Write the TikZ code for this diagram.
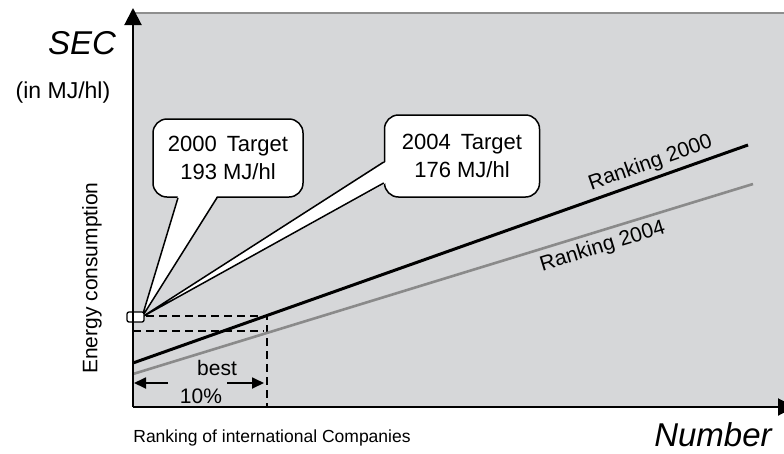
\documentclass[tikz,border=0pt]{standalone}
\usepackage{fontspec}
\setmainfont{Liberation Sans}
\usetikzlibrary{arrows.meta}
\definecolor{panel}{HTML}{D6D7D9}
\definecolor{rim}{HTML}{8E8E8E}
\definecolor{rank04}{HTML}{8A8A8A}
\newcommand{\fsz}[1]{\fontsize{#1}{1.27\dimexpr#1pt\relax}\selectfont}
\begin{document}
\begin{tikzpicture}[x=1pt, y=-1pt,
    bubble/.style={draw, fill=white, line width=1.5pt, rounded corners=14pt,
      minimum width=150pt, minimum height=78pt, align=center, font=\fsz{22}},
    txt/.style={inner sep=0pt, font=\fsz{21}},
    tipbig/.style={-{Triangle[length=17pt,width=17pt]}},
    tipsmall/.style={-{Triangle[length=12pt,width=11pt]}},
    dashbox/.style={line width=2.4pt, dash pattern=on 8pt off 5pt}]
  \useasboundingbox (0,0) rectangle (784,453);
  % panel
  \fill[panel] (133,13) rectangle (784,407);
  \draw[rim, line width=2.5pt] (133,13) -- (784,13);
  % best 10 percent
  \coordinate (c00) at (267,316);
  \coordinate (c04) at (264,331);
  \draw[dashbox] (133,316) -- (c00) -- (267,407);
  \draw[dashbox] (133,331) -- (c04);
  % rankings
  \draw[line width=3pt] (133,363) -- (748,145)
    node[pos=.85, sloped, above=4pt, txt] (r00) {Ranking 2000};
  \draw[rank04, line width=2.6pt] (133,374) -- (753,184)
    node[pos=.75, sloped, below=5pt, txt, text=black] (r04) {Ranking 2004};
  % targets
  \coordinate (tip) at (142,317);
  \node[bubble] (t00) at (228,158) {2000\hspace{10pt}Target\\193 MJ/hl};
  \node[bubble, minimum width=155pt, minimum height=82pt] (t04) at (462,156)
    {2004\hspace{10pt}Target\\176 MJ/hl};
  \fill[white] ([xshift=-50pt,yshift=2pt]t00.south) -- (tip)
    -- ([xshift=-11pt,yshift=2pt]t00.south) -- cycle;
  \draw[line width=1.5pt] ([xshift=-50pt]t00.south) -- (tip) -- ([xshift=-11pt]t00.south);
  \fill[white] ([xshift=2pt,yshift=-6pt]t04.west) -- (tip)
    -- ([xshift=2pt,yshift=-27pt]t04.west) -- cycle;
  \draw[line width=1.5pt] ([yshift=-6pt]t04.west) -- (tip) -- ([yshift=-27pt]t04.west);
  \node[draw, fill=white, line width=1.3pt, rounded corners=2pt,
    minimum width=17pt, minimum height=10pt, inner sep=0pt] (sec0) at (135.5,317) {};
  % axes
  \coordinate (o) at (133,407);
  \coordinate (ytop) at (133,8);
  \coordinate (xend) at (795,407);
  \draw[line width=2pt, tipbig] (o) -- (ytop);
  \draw[line width=2pt, tipbig] (o) -- (xend);
  % text
  \node[txt, font=\fsz{33}\itshape] (sec) at (82,43) {SEC};
  \node[txt, font=\fsz{23}] (unit) at (63,93) {(in MJ/hl)};
  \node[txt, rotate=90] (ec) at (92,278) {Energy consumption};
  \node[txt, font=\fsz{17.5}] (ric) at (272,438) {Ranking of international Companies};
  \node[txt, font=\fsz{33}\itshape] (num) at (713,435) {Number};
  % best
  \node[txt] (best) at (217,368) {best};
  \node[txt] (pct) at (201,396) {10\%};
  \coordinate (bl) at (134,383);
  \coordinate (br) at (264,383);
  \draw[line width=1.8pt, tipsmall] (168,383) -- (bl);
  \draw[line width=1.8pt, tipsmall] (227,383) -- (br);
\end{tikzpicture}
\end{document}
